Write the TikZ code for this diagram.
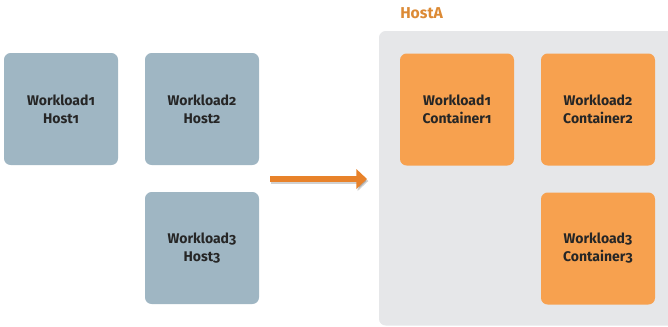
\documentclass[tikz,border=0pt]{standalone}
\usepackage{fontspec}
\setmainfont{Fira Sans}[UprightFont=* SemiBold, BoldFont=* Bold, Numbers=OldStyle]
\usetikzlibrary{arrows.meta}
\definecolor{hostblue}{HTML}{9FB6C3}
\definecolor{ctorange}{HTML}{F7A14F}
\definecolor{hostgrey}{HTML}{E6E7E9}
\definecolor{arroworange}{HTML}{E8822A}
\definecolor{labelorange}{HTML}{DC8A35}
\definecolor{textdark}{HTML}{262626}
\begin{document}
\begin{tikzpicture}[x=0.75pt,y=-0.75pt,
  box/.style={minimum width=114*0.75pt, minimum height=112*0.75pt,
    rounded corners=5pt, align=center, font=\bfseries\fontsize{10.5}{13.5}\selectfont,
    text=textdark, inner sep=0pt},
  hostbox/.style={box, fill=hostblue},
  ctbox/.style={box, fill=ctorange},
  migrate/.style={line width=4.8pt, -{Triangle[length=8pt,width=14.5pt]}}]
\useasboundingbox (0,0) rectangle (668,326);
% target host area
\fill[hostgrey, rounded corners=5pt] (379,31) rectangle (680,325.5);
\node[anchor=south west, text=labelorange, font=\bfseries\fontsize{11.8}{13}\selectfont, inner sep=0pt] (hosta) at (400,19) {HostA};
% source hosts
\node[hostbox] (h1) at (61,109) {Workload1\\Host1};
\node[hostbox] (h2) at (202,109) {Workload2\\Host2};
\node[hostbox] (h3) at (202,248) {Workload3\\Host3};
% containers on the target host
\node[ctbox] (c1) at (457,109.5) {Workload1\\Container1};
\node[ctbox] (c2) at (598,109.5) {Workload2\\Container2};
\node[ctbox] (c3) at (598,248.5) {Workload3\\Container3};
% migration arrow with a soft shadow
\coordinate (a0) at (270,179);
\coordinate (a1) at (367,179);
\draw[migrate, black, opacity=0.18, transform canvas={xshift=1pt, yshift=-1.5pt}] (a0) -- (a1);
\draw[migrate, arroworange] (a0) -- (a1);
\end{tikzpicture}
\end{document}
